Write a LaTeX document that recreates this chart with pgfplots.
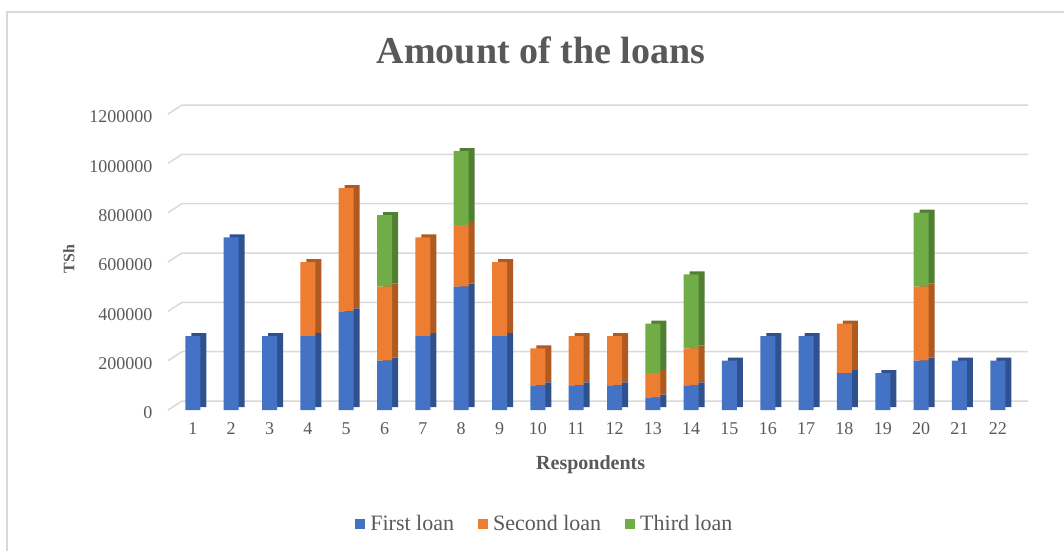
\documentclass[border=0pt]{standalone}
\usepackage{fontspec}
\setmainfont{Liberation Serif}
\usepackage{pgfplots}
\pgfplotsset{compat=1.18}
\definecolor{cblue}{HTML}{4472C4}
\definecolor{corange}{HTML}{ED7D31}
\definecolor{cgreen}{HTML}{70AD47}
\definecolor{dblue}{HTML}{2F528F}
\definecolor{dorange}{HTML}{AE5A21}
\definecolor{dgreen}{HTML}{507E32}
\definecolor{txt}{HTML}{595959}
\definecolor{gridc}{HTML}{D9D9D9}
\pgfplotstableread{
x first second third
1 300000 0 0
2 700000 0 0
3 300000 0 0
4 300000 300000 0
5 400000 500000 0
6 200000 300000 290000
7 300000 400000 0
8 500000 250000 300000
9 300000 300000 0
10 100000 150000 0
11 100000 200000 0
12 100000 200000 0
13 50000 100000 200000
14 100000 150000 300000
15 200000 0 0
16 300000 0 0
17 300000 0 0
18 150000 200000 0
19 150000 0 0
20 200000 300000 300000
21 200000 0 0
22 200000 0 0
}\loans
\pgfplotsset{
  base/.style={scale only axis, width=847pt, height=296pt,
    xmin=0.35, xmax=22.45, ymin=0, ymax=1200000, clip=false,
    ybar stacked, bar width=15pt},
}
\begin{document}
\begin{tikzpicture}
\path[use as bounding box] (0pt,0pt) rectangle (1064pt,550pt);
\draw[gridc, line width=2pt] (7pt,-10pt) -- (7pt,538pt) -- (1080pt,538pt);
\node[font=\fontsize{38}{42}\selectfont\bfseries, text=txt] at (541pt,500pt) {Amount of the loans};
% axis with labels and back-wall gridlines
\begin{axis}[base, at={(168pt,140pt)}, anchor=south west,
  xtick={1,...,22}, ytick={0,200000,...,1200000},
  axis line style={draw=none}, tick style={draw=none},
  scaled y ticks=false,
  /pgf/number format/.cd, fixed, 1000 sep={}, assume math mode=true,
  /pgfplots/.cd,
  ticklabel style={font=\fontsize{18}{21}\selectfont, text=txt},
  yticklabel style={xshift=-12pt, yshift=-3pt},
  xticklabel style={yshift=-9pt},
  xlabel={Respondents}, ylabel={TSh},
  xlabel style={font=\fontsize{20}{24}\selectfont\bfseries, text=txt,
    at={(axis description cs:0.499,-0.186)}, anchor=center},
  ylabel style={font=\fontsize{16}{19}\selectfont\bfseries, text=txt,
    at={(axis description cs:-0.117,0.51)}, anchor=center},
]
\pgfplotsinvokeforeach{0,200000,400000,600000,800000,1000000,1200000}{
  \draw[gridc, line width=1.5pt] (axis cs:0.35,#1) -- ([shift={(14pt,9pt)}]axis cs:0.35,#1) -- ([shift={(13pt,9pt)}]axis cs:22.45,#1);
}
\addplot[draw=none, fill=none, forget plot] coordinates {(1,0)};
\end{axis}
% side faces (shadow)
\begin{axis}[base, at={(174pt,143pt)}, anchor=south west, hide axis]
\addplot[fill=dblue, draw=none] table[x=x, y=first] {\loans};
\addplot[fill=dorange, draw=none] table[x=x, y=second] {\loans};
\addplot[fill=dgreen, draw=none] table[x=x, y=third] {\loans};
\end{axis}
% front faces
\begin{axis}[base, at={(168pt,140pt)}, anchor=south west, hide axis,
  legend style={at={(0.445,-0.385)}, anchor=center, draw=none, fill=none, legend columns=3,
    font=\fontsize{22}{26}\selectfont, text=txt,
    /tikz/every odd column/.append style={column sep=3pt},
    /tikz/every even column/.append style={column sep=22pt}},
  legend image code/.code={\fill[#1] (2pt,-5pt) rectangle (12pt,5pt);},
]
\addplot[fill=cblue, draw=none] table[x=x, y=first] {\loans};
\addplot[fill=corange, draw=none] table[x=x, y=second] {\loans};
\addplot[fill=cgreen, draw=none] table[x=x, y=third] {\loans};
\legend{First loan, Second loan, Third loan}
\end{axis}
\end{tikzpicture}
\end{document}
